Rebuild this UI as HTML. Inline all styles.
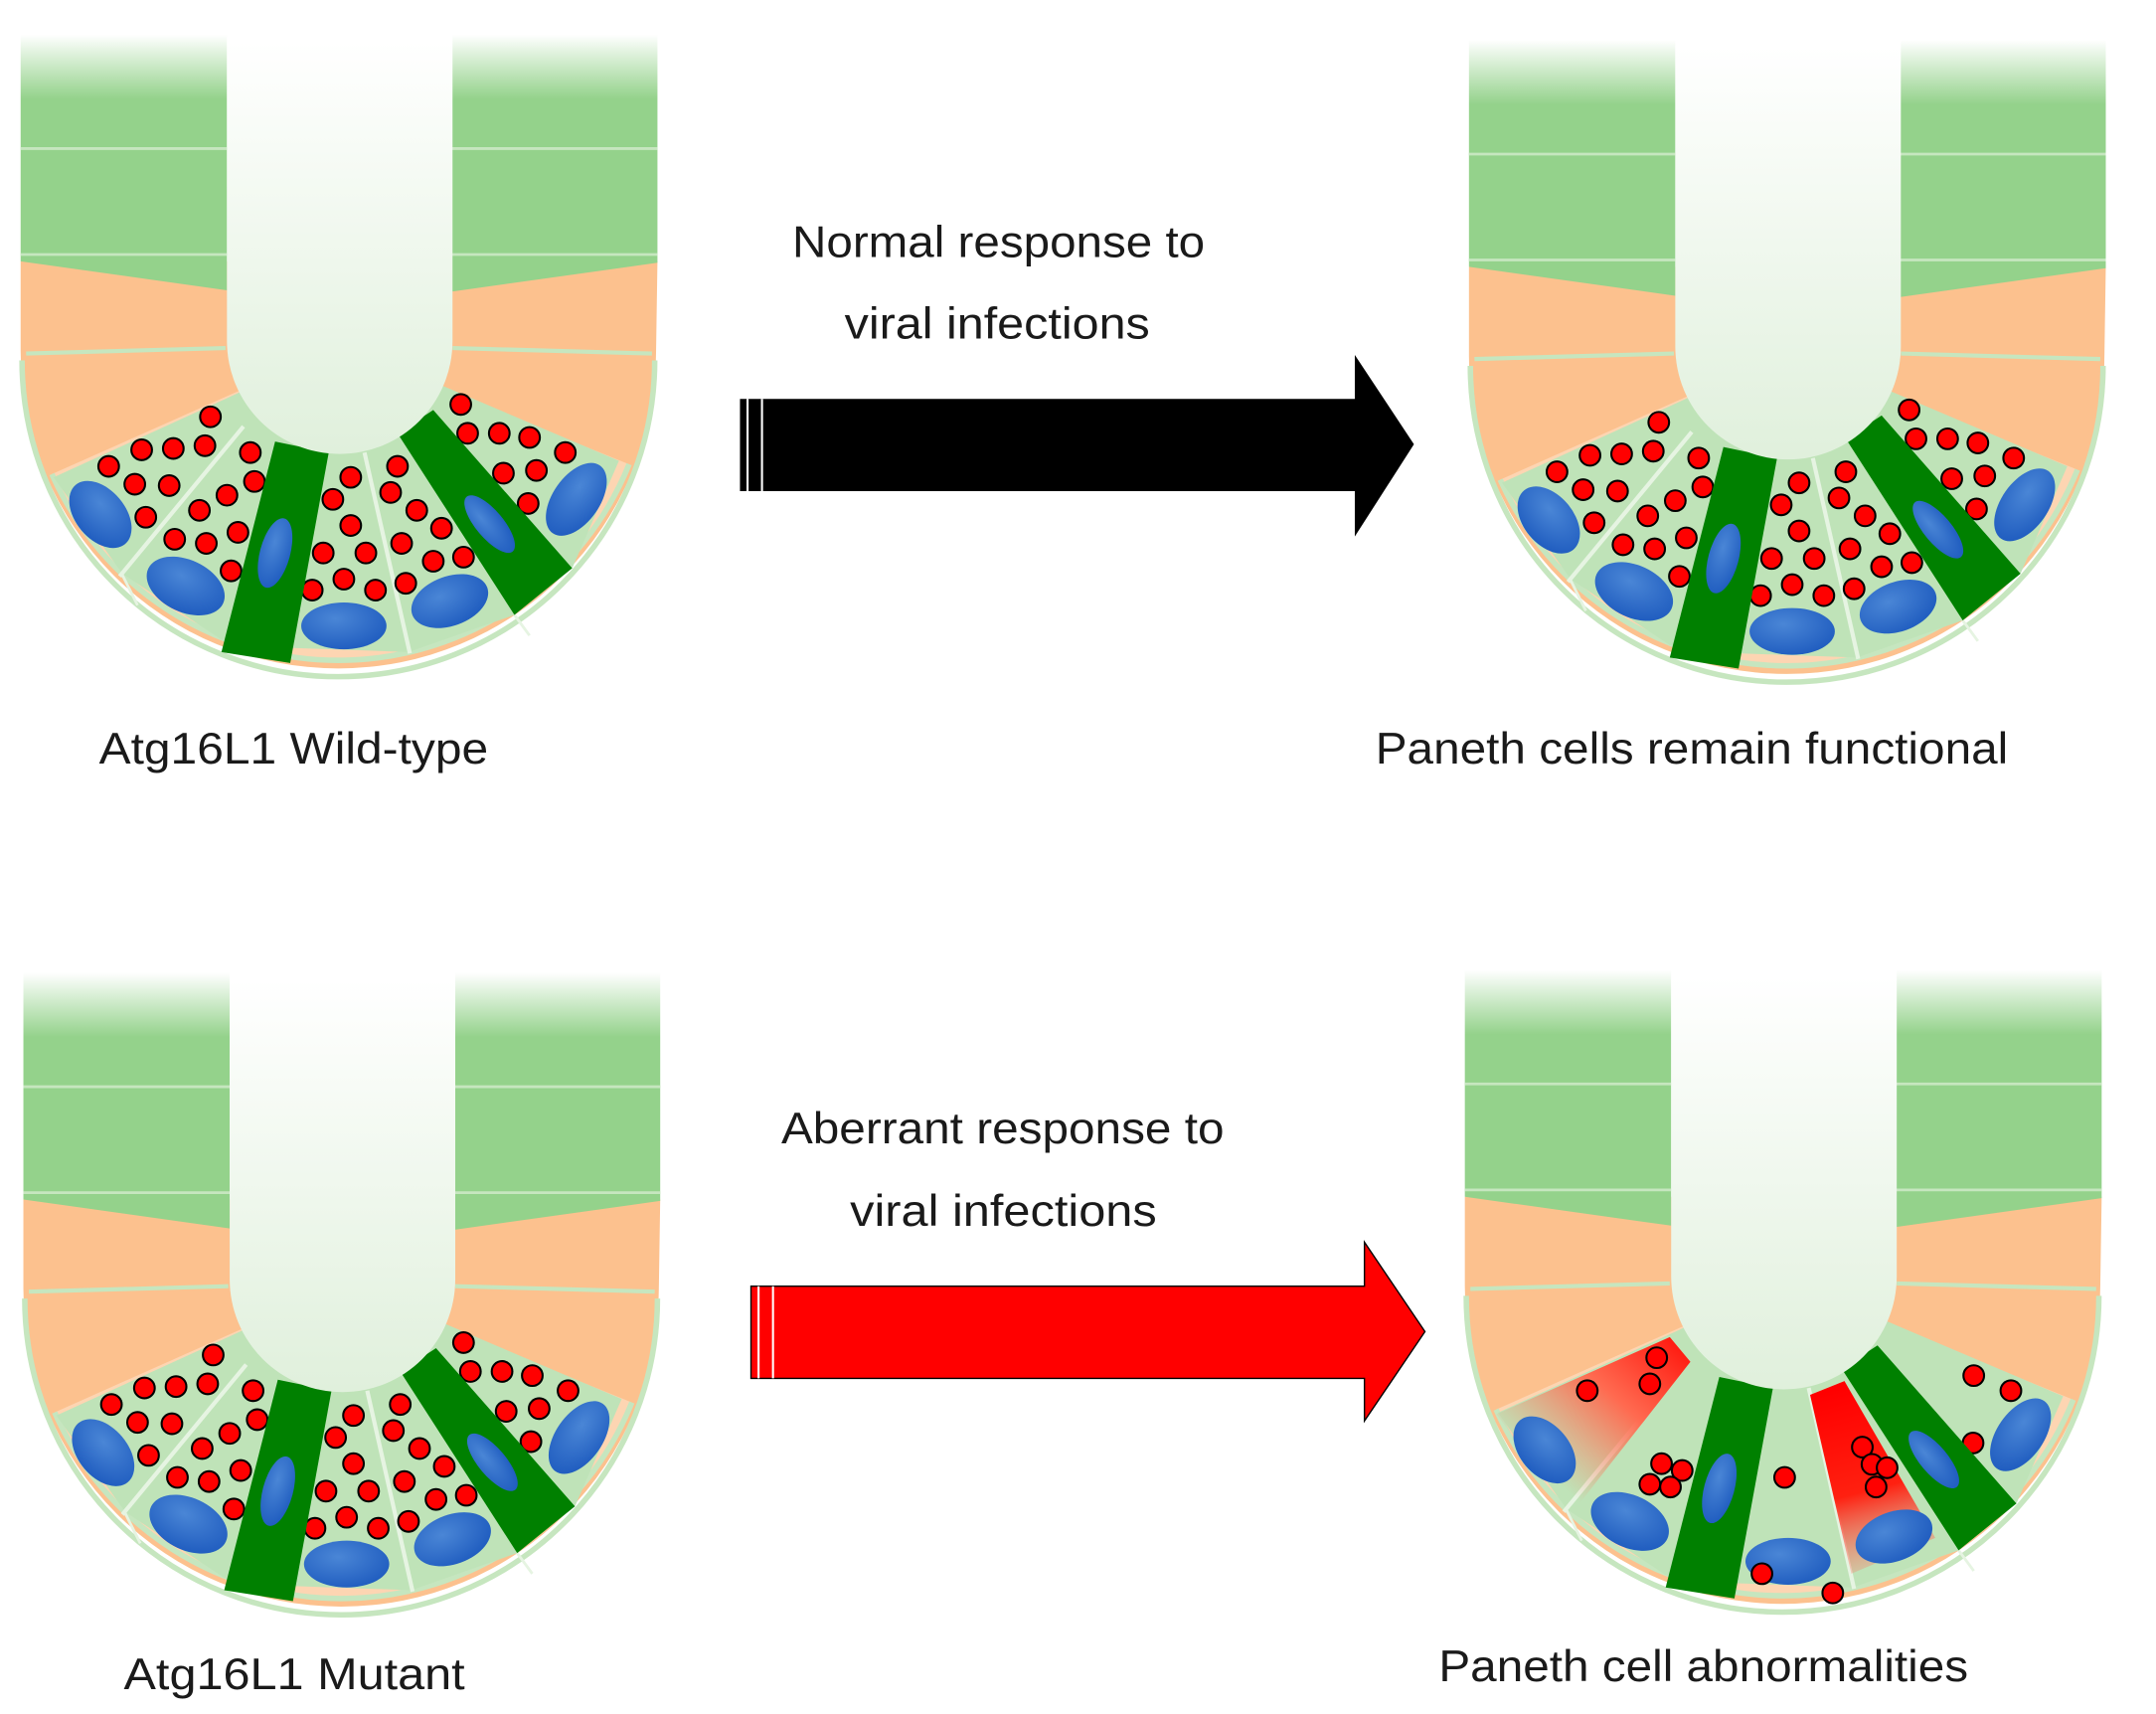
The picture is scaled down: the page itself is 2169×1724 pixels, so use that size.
<!DOCTYPE html>
<html><head><meta charset="utf-8"><style>
html,body{margin:0;padding:0;background:#fff;}
svg{display:block;}
text{font-family:"Liberation Sans",sans-serif;fill:#1a1a1a;font-size:32px;}
</style></head><body>
<svg width="2169" height="1724" viewBox="0 0 1567.5 1246" preserveAspectRatio="none" xmlns="http://www.w3.org/2000/svg">
<defs>
<linearGradient id="gfade" gradientUnits="userSpaceOnUse" x1="0" y1="25" x2="0" y2="72">
<stop offset="0" stop-color="#fff"/><stop offset="1" stop-color="#94d28b"/></linearGradient>
<linearGradient id="lum" gradientUnits="userSpaceOnUse" x1="0" y1="30" x2="0" y2="330">
<stop offset="0" stop-color="#ffffff"/><stop offset="1" stop-color="#e0f0dc"/></linearGradient>
<radialGradient id="blue" cx="0.4" cy="0.35" r="0.7">
<stop offset="0" stop-color="#4a86d6"/><stop offset="1" stop-color="#1f5cbf"/></radialGradient>
<linearGradient id="red1" gradientUnits="userSpaceOnUse" x1="175" y1="300" x2="85" y2="400">
<stop offset="0" stop-color="#ff1a10"/><stop offset="0.45" stop-color="#ff6a50"/><stop offset="1" stop-color="#ff8060" stop-opacity="0"/></linearGradient>
<linearGradient id="red2" gradientUnits="userSpaceOnUse" x1="285" y1="330" x2="320" y2="465">
<stop offset="0" stop-color="#ff0000"/><stop offset="0.55" stop-color="#ff2010"/><stop offset="1" stop-color="#ff8070" stop-opacity="0.2"/></linearGradient>

<g id="shell">
  <path d="M15,190 L15,255 A231,231 0 0 0 477,255 L478,190 Z" fill="#fcc18e"/>
  <path d="M16,262 A230,230 0 0 0 476,262" fill="none" stroke="#c6e6bf" stroke-width="4"/>
  <path d="M246,252 L37.7,344.7 A228,228 0 0 0 457.4,337.5 Z" fill="#fdd5b2"/>
  <path d="M37.7,344.7 A228,228 0 0 0 457.4,337.5" fill="none" stroke="#c6e6bf" stroke-width="4"/>
  <path d="M15,25 L165,25 L165,211 L15,190 Z" fill="url(#gfade)"/>
  <path d="M328,25 L478,25 L478,191 L328,212 Z" fill="url(#gfade)"/>
  <line x1="15" y1="108" x2="165" y2="108" stroke="#c6e6bf" stroke-width="2"/>
  <line x1="15" y1="185" x2="165" y2="185" stroke="#c6e6bf" stroke-width="2"/>
  <line x1="328" y1="108" x2="478" y2="108" stroke="#c6e6bf" stroke-width="2"/>
  <line x1="328" y1="185" x2="478" y2="185" stroke="#c6e6bf" stroke-width="2"/>
  <line x1="19" y1="257" x2="164" y2="253" stroke="#c6e6bf" stroke-width="3"/>
  <line x1="329" y1="253" x2="474" y2="257" stroke="#c6e6bf" stroke-width="3"/>
  <path d="M39,347 L89,417 L161,465 L213,471 L297,474 L374,447 L416,413 L450,335 L323,281 L246,252 L166,289 Z" fill="#bfe3b8"/>
  <line x1="177" y1="310" x2="87" y2="419" stroke="#e6f4e2" stroke-width="3"/>
  <line x1="265" y1="329" x2="298" y2="475" stroke="#e6f4e2" stroke-width="3"/>
  <line x1="89" y1="418" x2="100" y2="440" stroke="#e6f4e2" stroke-width="2"/>
  <line x1="374" y1="447" x2="385" y2="462" stroke="#e6f4e2" stroke-width="2"/>
</g>
<g id="lumen">
  <path d="M165,20 L165,248 A82,82 0 0 0 329,248 L329,20 Z" fill="url(#lum)"/>
</g>
<g id="nuclei">
  <ellipse cx="73" cy="374" rx="28" ry="18" transform="rotate(50 73 374)" fill="url(#blue)"/>
  <ellipse cx="135" cy="426" rx="30" ry="19" transform="rotate(25 135 426)" fill="url(#blue)"/>
  <ellipse cx="250" cy="455" rx="31" ry="17" fill="url(#blue)"/>
  <ellipse cx="327" cy="437" rx="29" ry="18" transform="rotate(-20 327 437)" fill="url(#blue)"/>
  <ellipse cx="419" cy="363" rx="17" ry="30" transform="rotate(35 419 363)" fill="url(#blue)"/>
</g>
<g id="bars">
  <polygon points="200,321 239,329 211,482 161,474" fill="#008000"/>
  <polygon points="289,315 315,298 416,413 374,447" fill="#008000"/>
  <ellipse cx="200" cy="402" rx="11" ry="26" transform="rotate(15 200 402)" fill="url(#blue)"/>
  <ellipse cx="356" cy="381" rx="10" ry="26" transform="rotate(-40 356 381)" fill="url(#blue)"/>
</g>
<g id="dots" fill="#ff0000" stroke="#000" stroke-width="1.5">
  <circle cx="153" cy="303" r="7.5"/><circle cx="103" cy="327" r="7.5"/><circle cx="126" cy="326" r="7.5"/>
  <circle cx="149" cy="324" r="7.5"/><circle cx="79" cy="339" r="7.5"/><circle cx="98" cy="352" r="7.5"/>
  <circle cx="123" cy="353" r="7.5"/><circle cx="106" cy="376" r="7.5"/><circle cx="182" cy="329" r="7.5"/>
  <circle cx="185" cy="350" r="7.5"/><circle cx="165" cy="360" r="7.5"/><circle cx="145" cy="371" r="7.5"/>
  <circle cx="173" cy="387" r="7.5"/><circle cx="150" cy="395" r="7.5"/><circle cx="127" cy="392" r="7.5"/>
  <circle cx="168" cy="415" r="7.5"/><circle cx="255" cy="347" r="7.5"/><circle cx="242" cy="363" r="7.5"/>
  <circle cx="255" cy="382" r="7.5"/><circle cx="235" cy="402" r="7.5"/><circle cx="266" cy="402" r="7.5"/>
  <circle cx="227" cy="429" r="7.5"/><circle cx="250" cy="421" r="7.5"/><circle cx="273" cy="429" r="7.5"/>
  <circle cx="289" cy="339" r="7.5"/><circle cx="284" cy="358" r="7.5"/><circle cx="303" cy="371" r="7.5"/>
  <circle cx="321" cy="384" r="7.5"/><circle cx="292" cy="395" r="7.5"/><circle cx="315" cy="408" r="7.5"/>
  <circle cx="337" cy="405" r="7.5"/><circle cx="295" cy="424" r="7.5"/><circle cx="335" cy="294" r="7.5"/>
  <circle cx="340" cy="315" r="7.5"/><circle cx="363" cy="315" r="7.5"/><circle cx="385" cy="318" r="7.5"/>
  <circle cx="411" cy="329" r="7.5"/><circle cx="366" cy="344" r="7.5"/><circle cx="390" cy="342" r="7.5"/>
  <circle cx="384" cy="366" r="7.5"/>
</g>
<g id="normal">
  <use href="#shell"/><use href="#nuclei"/><use href="#dots"/><use href="#bars"/><use href="#lumen"/>
</g>
</defs>

<use href="#normal"/>
<use href="#normal" transform="translate(1053,4)"/>
<use href="#normal" transform="translate(2,682)"/>

<g transform="translate(1050,680)">
  <use href="#shell"/>
  <polygon points="38,348 164,292 179,310 92,421" fill="url(#red1)"/>
  <polygon points="266,334 291,324 357,438 296,464" fill="url(#red2)"/>
  <use href="#nuclei"/>
  <g fill="#ff0000" stroke="#000" stroke-width="1.5">
    <circle cx="154.5" cy="307" r="7.5"/><circle cx="149.5" cy="326" r="7.5"/><circle cx="104" cy="331" r="7.5"/>
    <circle cx="158" cy="384" r="7.5"/><circle cx="173" cy="389" r="7.5"/><circle cx="149.5" cy="399" r="7.5"/>
    <circle cx="164.5" cy="401" r="7.5"/><circle cx="247.5" cy="394" r="7.5"/><circle cx="304" cy="372" r="7.5"/>
    <circle cx="311" cy="384.5" r="7.5"/><circle cx="322" cy="387" r="7.5"/><circle cx="314" cy="401" r="7.5"/>
    <circle cx="385" cy="320" r="7.5"/><circle cx="412" cy="331" r="7.5"/><circle cx="384.5" cy="369" r="7.5"/>
    <circle cx="231" cy="464" r="7.5"/><circle cx="282.5" cy="478" r="7.5"/>
  </g>
  <use href="#bars"/>
  <use href="#lumen"/>
</g>

<polygon points="538,290 985,290 985,258 1028,323 985,390 985,357 538,357" fill="#000"/>
<line x1="543.5" y1="290" x2="543.5" y2="357" stroke="#fff" stroke-width="1.5"/>
<line x1="554" y1="290" x2="554" y2="357" stroke="#fff" stroke-width="1.5"/>
<polygon points="546,935 992,935 992,903 1036,968 992,1033 992,1002 546,1002" fill="#ff0000" stroke="#000" stroke-width="1"/>
<line x1="551.5" y1="935" x2="551.5" y2="1002" stroke="#fff" stroke-width="1.5"/>
<line x1="562" y1="935" x2="562" y2="1002" stroke="#fff" stroke-width="1.5"/>

<text x="576" y="187" textLength="300" lengthAdjust="spacingAndGlyphs">Normal response to</text>
<text x="614" y="246" textLength="222" lengthAdjust="spacingAndGlyphs">viral infections</text>
<text x="72" y="555" textLength="283" lengthAdjust="spacingAndGlyphs">Atg16L1 Wild-type</text>
<text x="1000" y="555" textLength="460" lengthAdjust="spacingAndGlyphs">Paneth cells remain functional</text>
<text x="568" y="831" textLength="322" lengthAdjust="spacingAndGlyphs">Aberrant response to</text>
<text x="618" y="891" textLength="223" lengthAdjust="spacingAndGlyphs">viral infections</text>
<text x="90" y="1228" textLength="248" lengthAdjust="spacingAndGlyphs">Atg16L1 Mutant</text>
<text x="1046" y="1222" textLength="385" lengthAdjust="spacingAndGlyphs">Paneth cell abnormalities</text>
</svg>
</body></html>
